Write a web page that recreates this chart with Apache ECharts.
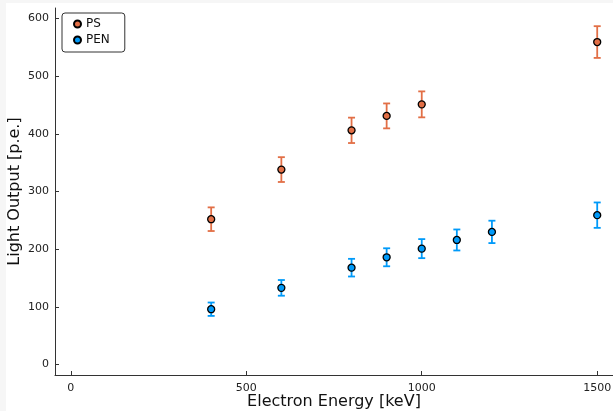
<!DOCTYPE html>
<html>
<head>
<meta charset="utf-8">
<script src="https://cdn.jsdelivr.net/npm/echarts@6/dist/echarts.min.js"></script>
<style>
html,body{margin:0;padding:0;background:#fff;}
#chart{width:613px;height:411px;}
</style>
</head>
<body>
<div id="chart"></div>
<script>
// Data
const energyPS = [400, 600, 800, 900, 1000, 1500];
const lightPS  = [252, 338, 406, 431, 451, 559];
const errPS    = [20.5, 21.5, 22, 21.6, 22.5, 27.5];

const energyPEN = [400, 600, 800, 900, 1000, 1100, 1200, 1500];
const lightPEN  = [96, 133, 168, 186, 201, 216, 230, 259];
const errPEN    = [11.6, 13.6, 15.3, 15.6, 16.5, 18.2, 19.4, 22];

const xTicks = [0, 500, 1000, 1500];
const yTicks = [0, 100, 200, 300, 400, 500, 600];

const colPS = '#e26f46';
const colPEN = '#009af9';
const font = 'DejaVu Sans';

function pts(xs, ys){ return xs.map((x,i)=>[x, ys[i]]); }
function errData(xs, ys, es){ return xs.map((x,i)=>[x, ys[i]-es[i], ys[i]+es[i]]); }

function errRender(color){
  return function(params, api){
    const x = api.value(0);
    const lo = api.coord([x, api.value(1)]);
    const hi = api.coord([x, api.value(2)]);
    const w = 3.5;
    const st = {stroke: color, lineWidth: 1.8};
    return {type:'group', children:[
      {type:'line', shape:{x1:lo[0], y1:lo[1], x2:hi[0], y2:hi[1]}, style:st},
      {type:'line', shape:{x1:lo[0]-w, y1:lo[1], x2:lo[0]+w, y2:lo[1]}, style:st},
      {type:'line', shape:{x1:hi[0]-w, y1:hi[1], x2:hi[0]+w, y2:hi[1]}, style:st}
    ]};
  };
}

const chart = echarts.init(document.getElementById('chart'), null, {renderer:'canvas'});
chart.setOption({
  animation:false,
  backgroundColor:'#fff',
  textStyle:{fontFamily:font},
  graphic:[
    {type:'rect', left:0, top:0, shape:{width:6, height:411}, style:{fill:'#f6f6f6'}, z:-10},
    {type:'rect', left:0, top:0, shape:{width:613, height:3}, style:{fill:'#f6f6f6'}, z:-10}
  ],
  grid:{left:55, right:0, top:8, bottom:36, containLabel:false, outerBoundsMode:'none'},
  legend:{
    left:62, top:13, orient:'vertical',
    data:['PS','PEN'],
    icon:'circle', itemWidth:7, itemHeight:7, itemGap:4,
    borderColor:'#333', borderWidth:1, borderRadius:3,
    padding:[5,15,6,11],
    backgroundColor:'#fff',
    textStyle:{fontFamily:font, fontSize:12, color:'#111', lineHeight:12}
  },
  xAxis:{
    type:'value', min:-45, max:1545,
    name:'Electron Energy [keV]', nameLocation:'middle', nameGap:19, nameMoveOverlap:false,
    nameTextStyle:{fontFamily:font, fontSize:16, color:'#111'},
    axisLine:{onZero:false, lineStyle:{color:'#333', width:1}},
    axisTick:{inside:true, length:4, lineStyle:{color:'#333'}, customValues: xTicks},
    axisLabel:{fontFamily:font, fontSize:11, color:'#222', margin:8, customValues: xTicks,
      formatter: v => String(v)},
    splitLine:{show:false}
  },
  yAxis:{
    type:'value', min:-18, max:618,
    name:'Light Output [p.e.]', nameLocation:'middle', nameGap:32, nameMoveOverlap:false,
    nameTextStyle:{fontFamily:font, fontSize:16, color:'#111'},
    axisLine:{show:true, onZero:false, lineStyle:{color:'#333', width:1}},
    axisTick:{show:true, inside:true, length:4, lineStyle:{color:'#333'}, customValues: yTicks},
    axisLabel:{fontFamily:font, fontSize:11, color:'#222', margin:6, customValues: yTicks,
      formatter: v => String(v)},
    splitLine:{show:false}
  },
  series:[
    {type:'custom', name:'PS_err', data:errData(energyPS, lightPS, errPS), renderItem:errRender(colPS), z:2, silent:true},
    {type:'custom', name:'PEN_err', data:errData(energyPEN, lightPEN, errPEN), renderItem:errRender(colPEN), z:2, silent:true},
    {type:'scatter', name:'PS', data:pts(energyPS, lightPS), symbol:'circle', symbolSize:7,
      itemStyle:{color:colPS, borderColor:'#000', borderWidth:1.3, opacity:1}, z:3},
    {type:'scatter', name:'PEN', data:pts(energyPEN, lightPEN), symbol:'circle', symbolSize:7,
      itemStyle:{color:colPEN, borderColor:'#000', borderWidth:1.3, opacity:1}, z:3}
  ]
});
</script>
</body>
</html>
